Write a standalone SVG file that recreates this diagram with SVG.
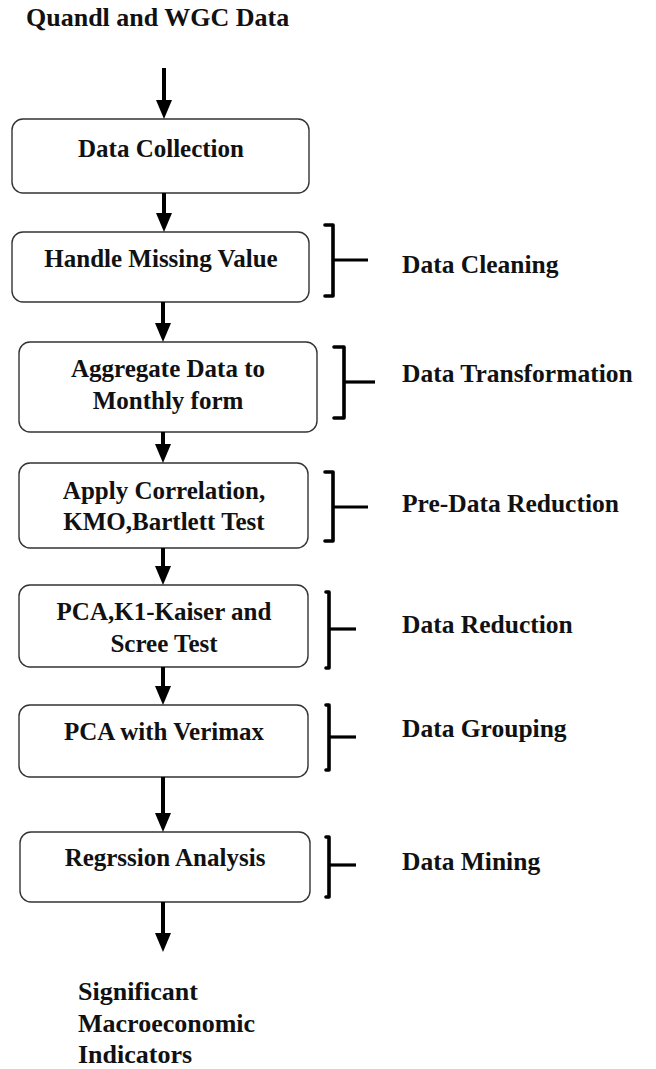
<svg xmlns="http://www.w3.org/2000/svg" width="656" height="1069" viewBox="0 0 656 1069">
  <style>
    .box { fill: #ffffff; stroke: #333333; stroke-width: 1.4; }
    .t { font-weight: bold; fill: #111111; }
    .bt { font-size: 25px; text-anchor: middle; }
    .lbl { font-size: 25.5px; }
    .arrow { stroke: #000000; stroke-width: 4; fill: none; marker-end: url(#head); }
    .brace { stroke: #000000; stroke-width: 3.6; fill: none; stroke-linejoin: round; stroke-linecap: round; }
    .tick { stroke: #000000; stroke-width: 3.2; fill: none; }
  </style>
  <defs>
    <marker id="head" markerUnits="userSpaceOnUse" markerWidth="20" markerHeight="16" refX="0" refY="8" orient="auto">
      <path d="M0,0 L19,8 L0,16 z" fill="#000000"/>
    </marker>
  </defs>
  <rect width="656" height="1069" fill="#ffffff"/>

  <g font-family="'Liberation Serif', Tinos, 'Times New Roman', 'DejaVu Serif', serif">
  <!-- source and result texts -->
  <g id="source">
    <text class="t" x="26" y="26" font-size="26">Quandl and WGC Data</text>
  </g>
  <g id="result">
    <text class="t" x="78" y="1000" font-size="26">Significant</text>
    <text class="t" x="78" y="1032" font-size="26">Macroeconomic</text>
    <text class="t" x="78" y="1063" font-size="26">Indicators</text>
  </g>

  <!-- process steps -->
  <g id="data-collection">
    <rect class="box" x="12" y="119" width="297" height="74" rx="11"/>
    <text class="t bt" x="161" y="157">Data Collection</text>
  </g>
  <g id="handle-missing">
    <rect class="box" x="12" y="232" width="297" height="70" rx="11"/>
    <text class="t bt" x="161" y="267">Handle Missing Value</text>
  </g>
  <g id="aggregate">
    <rect class="box" x="19" y="342" width="298" height="90" rx="11"/>
    <text class="t bt" x="168" y="377">Aggregate Data to</text>
    <text class="t bt" x="168" y="409">Monthly form</text>
  </g>
  <g id="correlation">
    <rect class="box" x="19" y="463" width="289" height="85" rx="11"/>
    <text class="t bt" x="164" y="499">Apply Correlation,</text>
    <text class="t bt" x="164" y="530">KMO,Bartlett Test</text>
  </g>
  <g id="pca-kaiser">
    <rect class="box" x="19" y="585" width="289" height="82" rx="11"/>
    <text class="t bt" x="164" y="620">PCA,K1-Kaiser and</text>
    <text class="t bt" x="164" y="652">Scree Test</text>
  </g>
  <g id="pca-verimax">
    <rect class="box" x="19" y="705" width="289" height="72" rx="11"/>
    <text class="t bt" x="164" y="740">PCA with Verimax</text>
  </g>
  <g id="regression">
    <rect class="box" x="20" y="832" width="290" height="70" rx="11"/>
    <text class="t bt" x="165" y="866">Regrssion Analysis</text>
  </g>

  <!-- stage brackets and labels -->
  <g id="stage-cleaning">
    <path class="brace" d="M325,225 L333,225 L333,296 L325,296"/>
    <line class="tick" x1="333" y1="260" x2="368" y2="260"/>
    <text class="t lbl" x="402" y="273">Data Cleaning</text>
  </g>
  <g id="stage-transformation">
    <path class="brace" d="M334,347 L344,347 L344,418 L334,418"/>
    <line class="tick" x1="344" y1="382" x2="375" y2="382"/>
    <text class="t lbl" x="402" y="382">Data Transformation</text>
  </g>
  <g id="stage-pre-reduction">
    <path class="brace" d="M325,472 L333,472 L333,541 L325,541"/>
    <line class="tick" x1="333" y1="507" x2="368" y2="507"/>
    <text class="t lbl" x="402" y="512">Pre-Data Reduction</text>
  </g>
  <g id="stage-reduction">
    <path class="brace" d="M326,592 L329,592 L329,668 L326,668"/>
    <line class="tick" x1="329" y1="629" x2="356" y2="629"/>
    <text class="t lbl" x="402" y="633">Data Reduction</text>
  </g>
  <g id="stage-grouping">
    <path class="brace" d="M326,705 L329,705 L329,770 L326,770"/>
    <line class="tick" x1="329" y1="737" x2="356" y2="737"/>
    <text class="t lbl" x="402" y="737">Data Grouping</text>
  </g>
  <g id="stage-mining">
    <path class="brace" d="M326,837 L329,837 L329,897 L326,897"/>
    <line class="tick" x1="329" y1="865" x2="356" y2="865"/>
    <text class="t lbl" x="402" y="870">Data Mining</text>
  </g>
  </g>

  <!-- flow arrows -->
  <g id="connectors">
    <line class="arrow" x1="164" y1="68" x2="164" y2="100"/>
    <line class="arrow" x1="164" y1="193" x2="164" y2="213"/>
    <line class="arrow" x1="163" y1="302" x2="163" y2="323"/>
    <line class="arrow" x1="163" y1="432" x2="163" y2="444"/>
    <line class="arrow" x1="163" y1="548" x2="163" y2="566"/>
    <line class="arrow" x1="163" y1="667" x2="163" y2="686"/>
    <line class="arrow" x1="163" y1="777" x2="163" y2="813"/>
    <line class="arrow" x1="163" y1="902" x2="163" y2="933"/>
  </g>
</svg>
